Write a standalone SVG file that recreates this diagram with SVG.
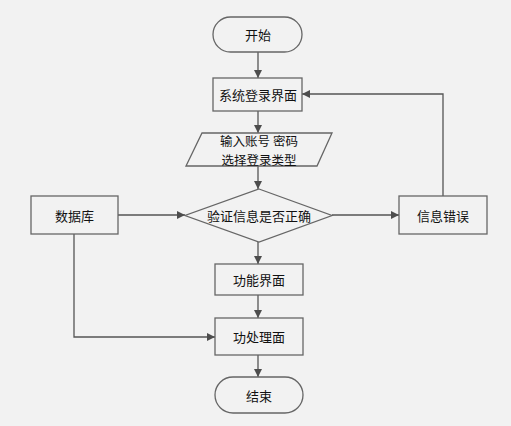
<svg xmlns="http://www.w3.org/2000/svg" width="511" height="426" viewBox="0 0 511 426">
<defs>
<marker id="arr" markerWidth="10" markerHeight="10" refX="9" refY="5" orient="auto" markerUnits="userSpaceOnUse">
<path d="M1,1 L9,5 L1,9 Z" fill="#4d4d4d"/>
</marker>
</defs>
<style>
.n{fill:#f2f2f2;stroke:#666;stroke-width:1.3}
.t{font-family:"Noto Sans CJK SC","Liberation Sans",sans-serif;font-size:13px;fill:#111;text-anchor:middle;dominant-baseline:central}
.c{fill:none;stroke:#555;stroke-width:1.3;marker-end:url(#arr)}
</style>
<rect width="511" height="426" fill="#f2f2f2"/>
<g id="connectors">
<path class="c" d="M258,52 V78"/>
<path class="c" d="M258,111 V133"/>
<path class="c" d="M258,166 V189"/>
<path class="c" d="M118,215 H185"/>
<path class="c" d="M332,215 H399"/>
<path class="c" d="M443,196 V94 H302"/>
<path class="c" d="M258,242 V264"/>
<path class="c" d="M258,295 V318"/>
<path class="c" d="M74,234 V337 H215"/>
<path class="c" d="M258,355 V377"/>
</g>
<g id="start">
<rect class="n" x="213" y="17" width="89" height="35" rx="17.5"/>
<text class="t" x="258" y="34.5">开始</text>
</g>
<g id="login">
<rect class="n" x="213" y="78" width="89" height="33"/>
<text class="t" x="258" y="94.5">系统登录界面</text>
</g>
<g id="input">
<polygon class="n" points="202,133 332,133 317,166 186,166"/>
<text class="t" x="259" y="140.5" style="font-size:12.5px">输入账号 密码</text>
<text class="t" x="259" y="159" style="font-size:12.5px">选择登录类型</text>
</g>
<g id="verify">
<polygon class="n" points="259,189 332,215.5 259,242 185,215.5"/>
<text class="t" x="259" y="215.5">验证信息是否正确</text>
</g>
<g id="database">
<rect class="n" x="31" y="196" width="87" height="38"/>
<text class="t" x="74.5" y="215">数据库</text>
</g>
<g id="error">
<rect class="n" x="399" y="196" width="88" height="38"/>
<text class="t" x="443" y="215">信息错误</text>
</g>
<g id="func">
<rect class="n" x="215" y="264" width="88" height="31"/>
<text class="t" x="259" y="279.5">功能界面</text>
</g>
<g id="process">
<rect class="n" x="215" y="318" width="88" height="37"/>
<text class="t" x="259" y="336.5">功处理面</text>
</g>
<g id="end">
<rect class="n" x="215" y="377" width="88" height="36" rx="18"/>
<text class="t" x="259" y="395">结束</text>
</g>
</svg>
